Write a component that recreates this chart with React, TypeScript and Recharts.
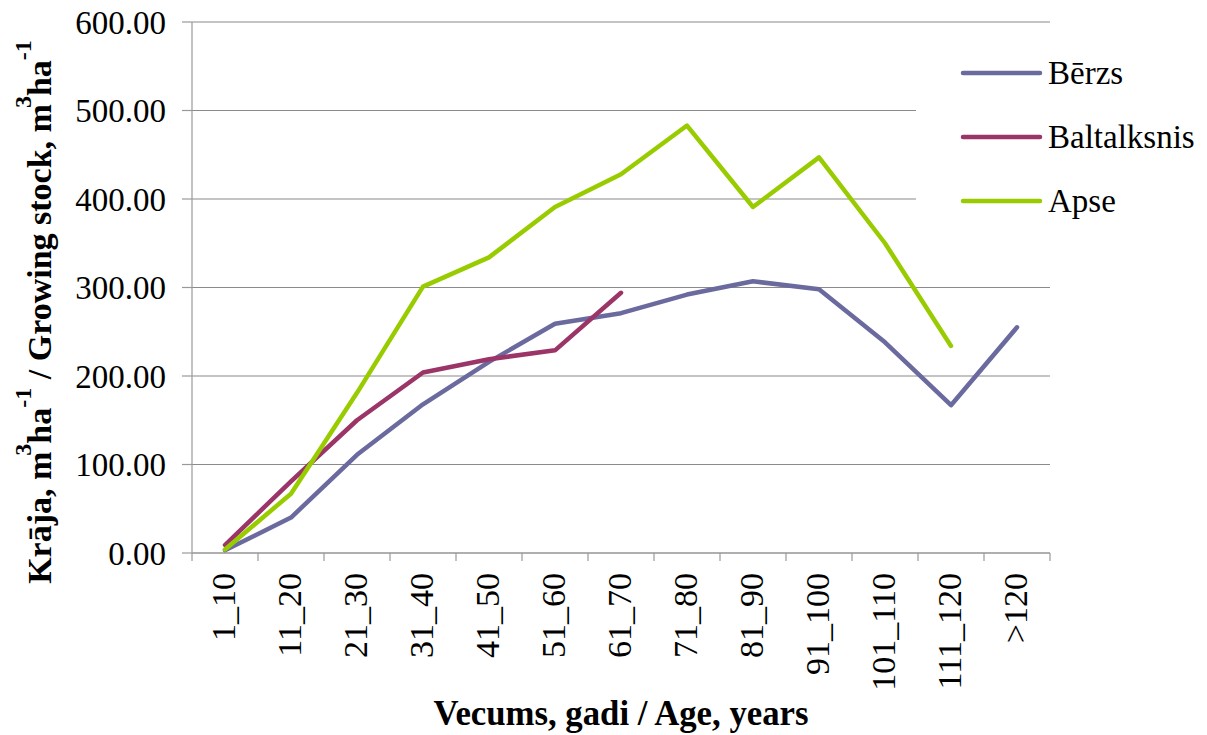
import React from 'react';
import { LineChart, Line, XAxis, YAxis, CartesianGrid, Legend } from 'recharts';

const categories = ['1_10', '11_20', '21_30', '31_40', '41_50', '51_60', '61_70', '71_80', '81_90', '91_100', '101_110', '111_120', '>120'];
const berzs = [3, 40, 111, 168, 216, 259, 271, 292, 307, 298, 238, 167, 255];
const baltalksnis: (number | null)[] = [9, 81, 150, 204, 219, 229, 294, null, null, null, null, null, null];
const apse: (number | null)[] = [4, 67, 181, 301, 334, 391, 428, 483, 391, 447, 350, 234, null];
const yTicks = [0, 100, 200, 300, 400, 500, 600];

const seriesInfo = [
  { key: 'berzs', name: 'Bērzs', color: '#6A6A9F' },
  { key: 'baltalksnis', name: 'Baltalksnis', color: '#9B3467' },
  { key: 'apse', name: 'Apse', color: '#99CC00' },
];

const data = categories.map((c, i) => ({
  cat: c,
  berzs: berzs[i],
  baltalksnis: baltalksnis[i],
  apse: apse[i],
}));

const W = 1207;
const H = 735;
const LEFT = 192;
const RIGHT = 157;
const TOP = 22;
const BOTTOM = 182;
const BAND = (W - LEFT - RIGHT) / categories.length;
const FONT = "'Liberation Serif', Tinos, 'DejaVu Serif', serif";

const XTick = (props: any) => {
  const { x, y, payload, index } = props;
  const last = index === categories.length - 1;
  return (
    <g>
      <line x1={x - BAND / 2} y1={y} x2={x - BAND / 2} y2={y + 8} stroke="#999" strokeWidth={1.2} />
      {last && <line x1={x + BAND / 2} y1={y} x2={x + BAND / 2} y2={y + 8} stroke="#999" strokeWidth={1.2} />}
      <text
        transform={`translate(${x - 2},${y + 20}) rotate(-90)`}
        textAnchor="end"
        dy="0.35em"
        fontSize={34}
        fontFamily={FONT}
        fill="#000"
      >
        {payload.value}
      </text>
    </g>
  );
};

const LegendContent = () => (
  <div style={{ position: 'relative', width: 291, height: 205, background: '#fff' }}>
    {seriesInfo.map((s, i) => (
      <div key={s.key} style={{ position: 'absolute', left: 0, top: 38 + i * 64 - 20, height: 40, width: 291 }}>
        <svg width={100} height={40} style={{ position: 'absolute', left: 44, top: 0 }}>
          <line x1={3} y1={20} x2={80} y2={20} stroke={s.color} strokeWidth={4.5} strokeLinecap="round" />
        </svg>
        <span
          style={{
            position: 'absolute',
            left: 132,
            top: 0,
            lineHeight: '40px',
            fontSize: 33,
            fontFamily: FONT,
            color: '#000',
            whiteSpace: 'nowrap',
          }}
        >
          {s.name}
        </span>
      </div>
    ))}
  </div>
);

const YLabel = () => (
  <text
    transform={`translate(51,312) rotate(-90)`}
    textAnchor="middle"
    fontSize={34}
    fontWeight="bold"
    fontFamily={FONT}
    fill="#000"
  >
    <tspan>Krāja, m</tspan>
    <tspan fontSize={24} dy={-20} dx={-4}>3</tspan>
    <tspan dy={20}>ha</tspan>
    <tspan fontSize={24} dy={-20}>-1</tspan>
    <tspan dy={20}> / Growing stock, m</tspan>
    <tspan fontSize={24} dy={-20} dx={-4}>3</tspan>
    <tspan dy={20}>ha</tspan>
    <tspan fontSize={24} dy={-20}>-1</tspan>
  </text>
);

export default function App() {
  return (
    <div style={{ position: 'absolute', left: 0, top: 0, width: W, height: H, background: '#fff' }}>
      <LineChart width={W} height={H} data={data} margin={{ top: TOP, right: RIGHT, bottom: 0, left: 0 }}>
        <CartesianGrid vertical={false} stroke="#8a8a8a" strokeWidth={1.2} />
        <XAxis
          dataKey="cat"
          scale="band"
          interval={0}
          height={BOTTOM}
          tickLine={false}
          tickSize={0}
          tickMargin={0}
          axisLine={{ stroke: '#999', strokeWidth: 1.2 }}
          tick={<XTick />}
          label={{
            content: () => (
              <text
                x={621}
                y={725}
                textAnchor="middle"
                fontSize={36}
                fontWeight="bold"
                fontFamily={FONT}
                fill="#000"
                textLength={375}
                lengthAdjust="spacingAndGlyphs"
              >
                Vecums, gadi / Age, years
              </text>
            ),
          }}
        />
        <YAxis
          width={LEFT}
          domain={[0, 600]}
          ticks={yTicks}
          interval={0}
          tickFormatter={(v: number) => v.toFixed(2)}
          tickSize={10}
          tickMargin={16}
          tickLine={{ stroke: '#999', strokeWidth: 1.2 }}
          axisLine={{ stroke: '#999', strokeWidth: 1.2 }}
          tick={{ fontSize: 33, fontFamily: FONT, fill: '#000' }}
          label={{ content: () => <YLabel /> }}
        />
        <Legend
          layout="vertical"
          align="center"
          verticalAlign="middle"
          content={<LegendContent />}
          wrapperStyle={{ position: 'absolute', left: 916, top: 35, width: 291, height: 205 }}
        />
        {seriesInfo.map((s) => (
          <Line
            key={s.key}
            type="linear"
            dataKey={s.key}
            name={s.name}
            stroke={s.color}
            strokeWidth={4.5}
            strokeLinecap="round"
            strokeLinejoin="round"
            dot={false}
            activeDot={false}
            isAnimationActive={false}
          />
        ))}
      </LineChart>
    </div>
  );
}
